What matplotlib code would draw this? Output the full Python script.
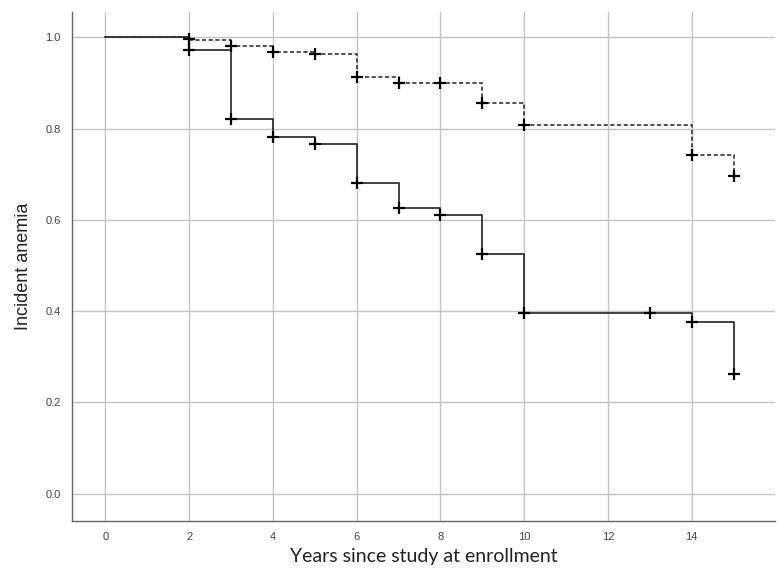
import numpy as np
import matplotlib.pyplot as plt

# step curves (time, survival)
solid_t = [0, 2, 3, 4, 5, 6, 7, 8, 9, 10, 14, 15]
solid_s = [1.0, 0.972, 0.82, 0.781, 0.766, 0.681, 0.627, 0.61, 0.526, 0.395, 0.376, 0.262]
dash_t = [0, 2, 3, 4, 5, 6, 7, 8, 9, 10, 14, 15]
dash_s = [1.0, 0.995, 0.982, 0.967, 0.963, 0.913, 0.90, 0.90, 0.857, 0.808, 0.742, 0.697]

# censored marks
solid_ct = [2, 3, 4, 5, 6, 7, 8, 9, 10, 13, 14, 15]
solid_cs = [0.972, 0.82, 0.781, 0.766, 0.681, 0.627, 0.61, 0.526, 0.395, 0.395, 0.376, 0.262]
dash_ct = [2, 3, 4, 5, 6, 7, 8, 9, 10, 14, 15]
dash_cs = [0.997, 0.982, 0.967, 0.963, 0.913, 0.90, 0.90, 0.857, 0.808, 0.742, 0.697]

xticks = [0, 2, 4, 6, 8, 10, 12, 14]
yticks = [0.0, 0.2, 0.4, 0.6, 0.8, 1.0]

fig = plt.figure(figsize=(7.79, 5.71), dpi=100)
ax = fig.add_axes([0.0924, 0.0876, 0.903, 0.891])

ax.plot(solid_t, solid_s, drawstyle='steps-post', color='#222222', lw=1.2, zorder=3)
ax.plot(dash_t, dash_s, drawstyle='steps-post', color='#333333', lw=1.2,
        linestyle=(0, (2.5, 1.5)), zorder=3)
ax.plot(solid_ct, solid_cs, '+', color='black', ms=8, mew=1.6, zorder=4)
ax.plot(dash_ct, dash_cs, '+', color='black', ms=8, mew=1.6, zorder=4)

ax.set_xlim(-0.8, 16)
ax.set_ylim(-0.06, 1.055)
ax.set_xticks(xticks)
ax.set_yticks(yticks)
ax.set_yticklabels([f'{v:.1f}' for v in yticks])
ax.grid(True, color='#c4c4c4', lw=1.0)
ax.set_axisbelow(True)
ax.tick_params(length=0, labelsize=8, labelcolor='#444444', pad=8)
for lab in ax.get_xticklabels() + ax.get_yticklabels():
    lab.set_fontfamily('Liberation Sans')

for s in ['top', 'right']:
    ax.spines[s].set_visible(False)
for s in ['left', 'bottom']:
    ax.spines[s].set_color('#666666')
    ax.spines[s].set_linewidth(1.0)

ax.set_xlabel('Years since study at enrollment', fontsize=14, family='Lato',
              color='#222222', labelpad=4)
ax.set_ylabel('Incident anemia', fontsize=13, family='Liberation Sans',
              color='#222222', labelpad=10)

fig.savefig('out.png', dpi=100)
